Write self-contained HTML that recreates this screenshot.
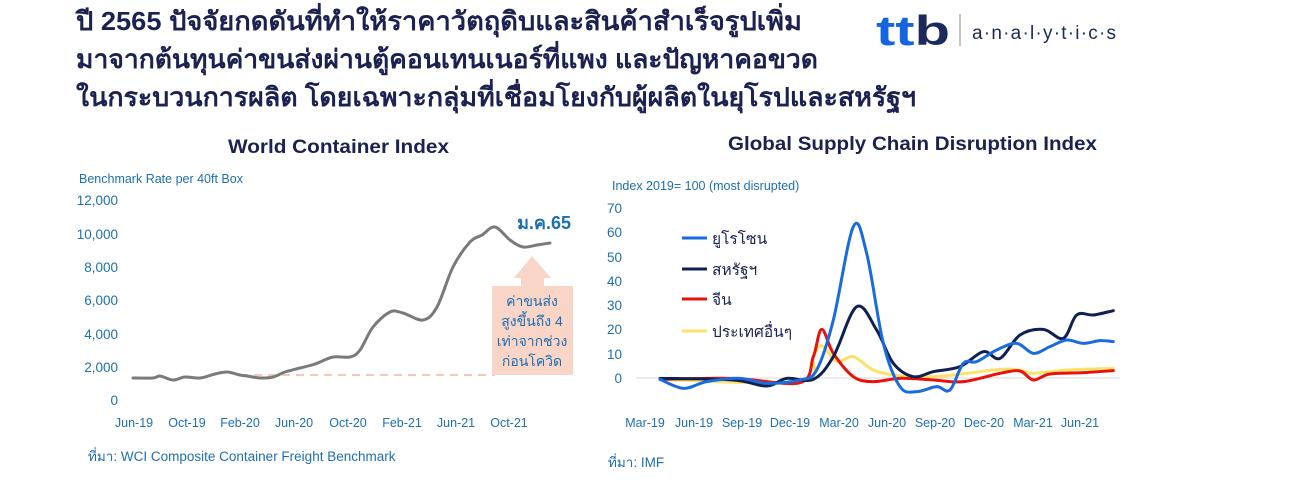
<!DOCTYPE html>
<html><head><meta charset="utf-8"><style>
body{margin:0;background:#fff;width:1296px;height:480px;overflow:hidden}
svg{display:block}
text{font-family:"Liberation Sans","Noto Sans CJK SC",sans-serif}
.th{font-family:"Liberation Sans","Noto Sans CJK SC","WenQuanYi Zen Hei",sans-serif}
</style></head><body>
<svg id="s" width="1296" height="480" viewBox="0 0 1296 480" xmlns="http://www.w3.org/2000/svg">
<g class="th" fill="#1b2150" font-weight="bold" font-size="26">
<text x="76" y="30" textLength="726" lengthAdjust="spacingAndGlyphs">ปี 2565 ปัจจัยกดดันที่ทำให้ราคาวัตถุดิบและสินค้าสำเร็จรูปเพิ่ม</text>
<text x="76" y="68" textLength="742" lengthAdjust="spacingAndGlyphs">มาจากต้นทุนค่าขนส่งผ่านตู้คอนเทนเนอร์ที่แพง และปัญหาคอขวด</text>
<text x="76" y="106" textLength="840" lengthAdjust="spacingAndGlyphs">ในกระบวนการผลิต โดยเฉพาะกลุ่มที่เชื่อมโยงกับผู้ผลิตในยุโรปและสหรัฐฯ</text>
</g>
<!-- logo -->
<text x="876" y="45" font-size="42" font-weight="bold" fill="#1565e0" textLength="74" lengthAdjust="spacingAndGlyphs">tt<tspan fill="#1b2a5a">b</tspan></text>
<line x1="960" y1="14" x2="960" y2="46" stroke="#888" stroke-width="1"/>
<text x="972" y="39" font-size="19" fill="#1b2a5a" textLength="144">a·n·a·l·y·t·i·c·s</text>

<!-- left chart -->
<text x="228" y="153" font-size="19" font-weight="bold" fill="#1b2150" textLength="221" lengthAdjust="spacingAndGlyphs">World Container Index</text>
<text x="79" y="183" font-size="12.5" fill="#1d6fb0">Benchmark Rate per 40ft Box</text>
<g font-size="13.5" fill="#1d6fb0" text-anchor="end">
<text x="118" y="205">12,000</text><text x="118" y="239">10,000</text><text x="118" y="272">8,000</text>
<text x="118" y="305">6,000</text><text x="118" y="339">4,000</text><text x="118" y="372">2,000</text><text x="118" y="405">0</text>
</g>
<g font-size="12.5" fill="#1d6fb0" text-anchor="middle">
<text x="134" y="427">Jun-19</text><text x="187" y="427">Oct-19</text><text x="240" y="427">Feb-20</text><text x="294" y="427">Jun-20</text><text x="348" y="427">Oct-20</text><text x="402" y="427">Feb-21</text><text x="456" y="427">Jun-21</text><text x="509" y="427">Oct-21</text>
</g>
<line x1="240" y1="375" x2="495" y2="375" stroke="#f6c7b8" stroke-width="2" stroke-dasharray="8,6"/>
<rect x="492" y="286" width="81" height="89" fill="#f9d5c7"/>
<polygon points="532,256 514,278 521,278 521,286 544,286 544,278 551,278" fill="#f9d5c7"/>
<g class="th" font-size="14" fill="#1d6fb0" text-anchor="middle">
<text x="532" y="306">ค่าขนส่ง</text><text x="532" y="326">สูงขึ้นถึง 4</text><text x="532" y="346">เท่าจากช่วง</text><text x="532" y="366">ก่อนโควิด</text>
</g>
<text class="th" x="571" y="229" text-anchor="end" font-size="18" font-weight="bold" fill="#1d6fb0">ม.ค.65</text>
<polyline class="sm" fill="none" stroke="#7a7a7a" stroke-width="3" stroke-linejoin="round" stroke-linecap="round" points="133,378 153,378 160,376 173,380 185,377 200,378 215,374 227,372 240,375 247,376 260,378 273,377 285,372 300,368 315,364 333,357 350,357 360,350 373,327 390,312 403,313 423,320 437,307 453,267 470,242 482,235 495,227 510,240 523,247 537,245 550,243"/>
<text class="th" x="88" y="461" font-size="13.5" fill="#1d6fb0">ที่มา:  WCI Composite Container Freight Benchmark</text>

<!-- right chart -->
<text x="728" y="150" font-size="19" font-weight="bold" fill="#1b2150" textLength="369" lengthAdjust="spacingAndGlyphs">Global Supply Chain Disruption Index</text>
<text x="612" y="190" font-size="12.5" fill="#1d6fb0">Index 2019= 100 (most disrupted)</text>
<g font-size="13.5" fill="#1d6fb0" text-anchor="end">
<text x="622" y="213">70</text><text x="622" y="237">60</text><text x="622" y="262">50</text><text x="622" y="286">40</text>
<text x="622" y="310">30</text><text x="622" y="334">20</text><text x="622" y="359">10</text><text x="622" y="383">0</text>
</g>
<line x1="636" y1="378" x2="1120" y2="378" stroke="#d9d9d9" stroke-width="1"/>
<g font-size="12.5" fill="#1d6fb0" text-anchor="middle">
<text x="645" y="427">Mar-19</text><text x="694" y="427">Jun-19</text><text x="742" y="427">Sep-19</text><text x="790" y="427">Dec-19</text><text x="839" y="427">Mar-20</text><text x="887" y="427">Jun-20</text><text x="935" y="427">Sep-20</text><text x="984" y="427">Dec-20</text><text x="1033" y="427">Mar-21</text><text x="1080" y="427">Jun-21</text>
</g>
<g transform="translate(600,170) scale(0.33333)" fill="none" stroke-width="9" stroke-linejoin="round" stroke-linecap="round">
<polyline class="sm" stroke="#fde26a" points="180,628 600,635 640,560 665,527 710,575 760,560 820,600 900,618 1000,620 1100,610 1200,598 1260,600 1300,610 1400,600 1540,595"/>
<polyline class="sm" stroke="#e8120c" points="180,628 400,625 600,638 640,560 665,478 700,550 760,620 820,635 900,625 1000,630 1090,635 1200,610 1260,603 1300,630 1350,612 1450,608 1540,602"/>
<polyline class="sm" stroke="#0f2052" points="180,625 400,630 500,648 560,625 640,628 700,560 770,410 830,480 880,580 940,620 1000,605 1080,590 1150,545 1200,565 1260,495 1330,478 1390,505 1430,435 1480,435 1540,422"/>
<polyline class="sm" stroke="#1a6ae0" points="180,628 250,655 320,635 420,625 500,640 600,630 650,600 700,450 760,170 800,250 850,520 900,650 950,665 1010,650 1050,660 1090,580 1130,575 1190,540 1250,520 1300,550 1350,530 1400,510 1450,520 1500,512 1540,515"/>
</g>
<g stroke-width="3">
<line x1="682" y1="238" x2="707" y2="238" stroke="#1a6ae0"/>
<line x1="682" y1="269" x2="707" y2="269" stroke="#0f2052"/>
<line x1="682" y1="299" x2="707" y2="299" stroke="#e8120c"/>
<line x1="682" y1="331" x2="707" y2="331" stroke="#fde26a"/>
</g>
<g class="th" font-size="15.5" fill="#1b2150">
<text x="712" y="244">ยูโรโซน</text><text x="712" y="275">สหรัฐฯ</text><text x="712" y="305">จีน</text><text x="712" y="337">ประเทศอื่นๆ</text>
</g>
<text class="th" x="608" y="467" font-size="13.5" fill="#1d6fb0">ที่มา: IMF</text>
</svg>
<script>
document.querySelectorAll('polyline.sm').forEach(function(pl){
  var p=pl.getAttribute('points').trim().split(/\s+/).map(function(s){return s.split(',').map(Number);});
  var d='M'+p[0][0]+','+p[0][1];
  for(var i=0;i<p.length-1;i++){
    var p0=p[i-1]||p[i],p1=p[i],p2=p[i+1],p3=p[i+2]||p2;
    var c1x=p1[0]+(p2[0]-p0[0])/6,c1y=p1[1]+(p2[1]-p0[1])/6;
    var c2x=p2[0]-(p3[0]-p1[0])/6,c2y=p2[1]-(p3[1]-p1[1])/6;
    d+=' C'+c1x+','+c1y+' '+c2x+','+c2y+' '+p2[0]+','+p2[1];
  }
  var path=document.createElementNS('http://www.w3.org/2000/svg','path');
  ['fill','stroke','stroke-width','stroke-linejoin','stroke-linecap'].forEach(function(a){if(pl.getAttribute(a))path.setAttribute(a,pl.getAttribute(a));});
  path.setAttribute('d',d);
  pl.parentNode.replaceChild(path,pl);
});
</script>
</body></html>
